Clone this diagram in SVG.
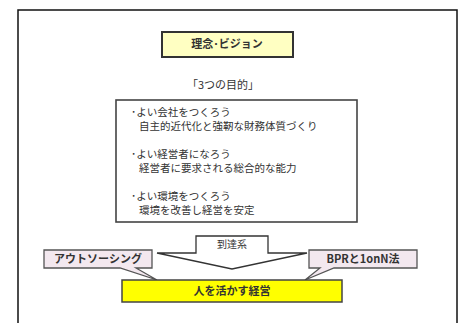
<svg xmlns="http://www.w3.org/2000/svg" width="465" height="323" viewBox="0 0 465 323">
<defs>
<style>
text{font-family:"Noto Sans CJK JP","Liberation Sans",sans-serif;fill:#333}
.b{font-weight:bold}
.t{font-size:10.5px}
.box{stroke:#444;stroke-width:1.6}
.pink{fill:#F3E8EF;stroke:#555;stroke-width:1.3}
</style>
</defs>
<rect width="465" height="323" fill="#fff"/>
<rect x="18" y="10" width="439" height="320" fill="none" stroke="#111" stroke-width="1.5"/>
<g id="vision">
<rect x="162" y="32" width="131" height="25" fill="#FFFFC2" stroke="#333" stroke-width="2"/>
<text x="227" y="48" font-size="11" class="b" text-anchor="middle">理念･ビジョン</text>
</g>
<g id="purpose-title">
<text x="223" y="89" font-size="11" text-anchor="middle">「3つの目的」</text>
</g>
<g id="purposes">
<rect x="116" y="100" width="241" height="122" fill="#fff" class="box"/>
<text class="t" x="131" y="116">･よい会社をつくろう</text>
<text class="t" x="139" y="130">自主的近代化と強靭な財務体質づくり</text>
<text class="t" x="131" y="158">･よい経営者になろう</text>
<text class="t" x="139" y="172">経営者に要求される総合的な能力</text>
<text class="t" x="131" y="200">･よい環境をつくろう</text>
<text class="t" x="139" y="214">環境を改善し経営を安定</text>
</g>
<g id="connectors">
<path d="M196,236 H268 V253 H307 L232,269 L157,253 H196 Z" fill="#fff" stroke="#333" stroke-width="1.3"/>
<text x="232" y="248" font-size="10" text-anchor="middle">到達系</text>
</g>
<g id="outsourcing">
<path d="M44,250 H152 V268 H136 L157,280 L120,268 H44 Z" class="pink"/>
<text x="98" y="263" font-size="11" class="b" text-anchor="middle">アウトソーシング</text>
</g>
<g id="bpr">
<path d="M309,250 H417 V268 H334 L305,280 L320,268 H309 Z" class="pink"/>
<text x="363" y="263" font-size="11" class="b" text-anchor="middle">BPRと1onN法</text>
</g>
<g id="management">
<rect x="122" y="280" width="220" height="22" fill="#FFFF00" stroke="#444" stroke-width="1.5"/>
<text x="232" y="295" font-size="11" class="b" text-anchor="middle">人を活かす経営</text>
</g>
</svg>
